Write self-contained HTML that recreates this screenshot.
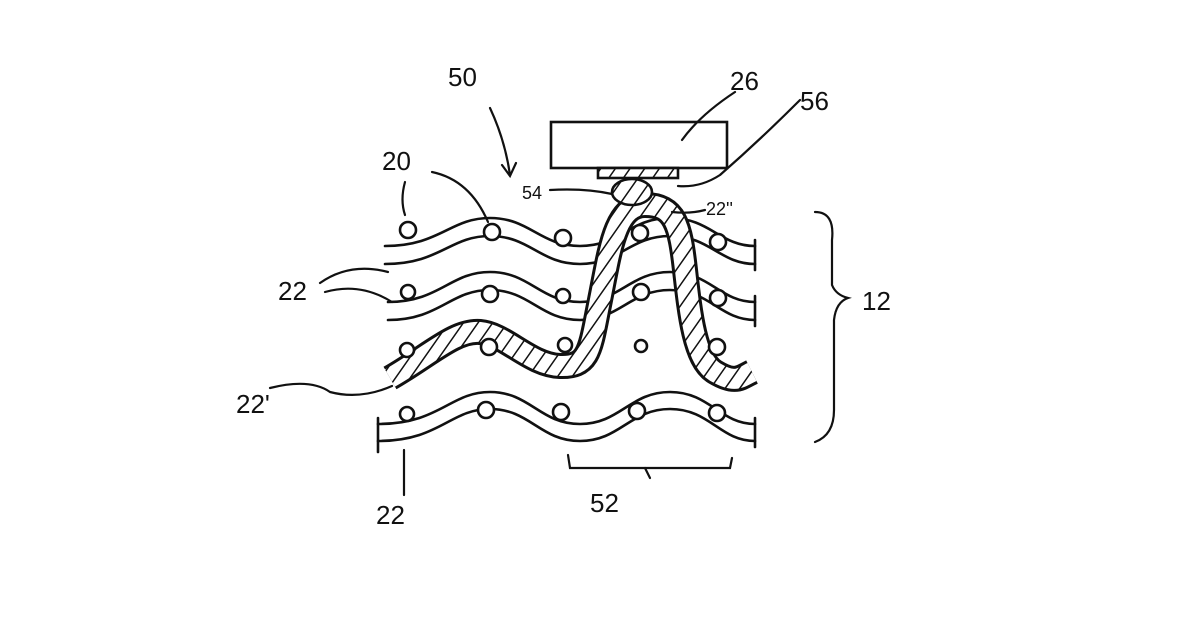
<!DOCTYPE html>
<html><head><meta charset="utf-8"><style>
html,body{margin:0;padding:0;background:#fff;width:1200px;height:630px;overflow:hidden}
text{font-family:"Liberation Sans",sans-serif;font-size:26px;fill:#111}
</style></head><body>
<svg width="1200" height="630" viewBox="0 0 1200 630" xmlns="http://www.w3.org/2000/svg">
<defs>
<pattern id="h" width="12" height="12" patternUnits="userSpaceOnUse" patternTransform="rotate(35)">
<rect width="12" height="12" fill="#fff"/><line x1="0" y1="0" x2="0" y2="12" stroke="#111" stroke-width="3"/>
</pattern>
</defs>
<g fill="none" stroke="#111" stroke-width="2.6" stroke-linecap="round">
<!-- row 1 -->
<path d="M385,246 C440,246 450,218 490,218 S540,246 580,246 S630,218 670,218 S720,246 755,246"/>
<path d="M385,264 C440,264 450,236 490,236 S540,264 580,264 S630,236 670,236 S720,264 755,264"/>
<!-- row 2 -->
<path d="M388,302 C440,302 450,272 490,272 S540,302 580,302 S630,272 670,272 S720,302 755,302"/>
<path d="M388,320 C440,320 450,290 490,290 S540,320 580,320 S630,290 670,290 S720,320 755,320"/>
<!-- row 4 -->
<path d="M378,424 C440,424 450,392 490,392 S540,424 580,424 S630,392 670,392 S720,424 755,424"/>
<path d="M378,441 C440,441 450,409 490,409 S540,441 580,441 S630,409 670,409 S720,441 755,441"/>
<line x1="755" y1="240" x2="755" y2="270"/><line x1="755" y1="296" x2="755" y2="326"/>
<line x1="378" y1="418" x2="378" y2="452"/><line x1="755" y1="418" x2="755" y2="447"/>
</g>
<!-- hatched band -->
<path d="M390,378 C430,355 455,330 480,332 S530,365 560,366 S590,350 600,300 S615,205 645,205 S680,225 685,270 S695,360 715,372 S740,378 752,372" fill="none" stroke="#111" stroke-width="26" stroke-linecap="butt"/>
<path d="M390,378 C430,355 455,330 480,332 S530,365 560,366 S590,350 600,300 S615,205 645,205 S680,225 685,270 S695,360 715,372 S740,378 752,372" fill="none" stroke="url(#h)" stroke-width="20" stroke-linecap="butt"/>
<!-- dots -->
<g fill="#fff" stroke="#111" stroke-width="2.6">
<circle cx="408" cy="230" r="8"/><circle cx="492" cy="232" r="8"/><circle cx="563" cy="238" r="8"/><circle cx="640" cy="233" r="8"/><circle cx="718" cy="242" r="8"/>
<circle cx="408" cy="292" r="7"/><circle cx="490" cy="294" r="8"/><circle cx="563" cy="296" r="7"/><circle cx="641" cy="292" r="8"/><circle cx="718" cy="298" r="8"/>
<circle cx="407" cy="350" r="7"/><circle cx="489" cy="347" r="8"/><circle cx="565" cy="345" r="7"/><circle cx="641" cy="346" r="6"/><circle cx="717" cy="347" r="8"/>
<circle cx="407" cy="414" r="7"/><circle cx="486" cy="410" r="8"/><circle cx="561" cy="412" r="8"/><circle cx="637" cy="411" r="8"/><circle cx="717" cy="413" r="8"/>
</g>
<!-- box 26 -->
<rect x="551" y="122" width="176" height="46" fill="#fff" stroke="#111" stroke-width="2.6"/>
<rect x="598" y="168" width="80" height="10" fill="url(#h)" stroke="#111" stroke-width="2.6"/>
<ellipse cx="632" cy="192" rx="20" ry="13" fill="url(#h)" stroke="#111" stroke-width="2.6"/>
<!-- leaders -->
<g fill="none" stroke="#111" stroke-width="2.2" stroke-linecap="round">
<path d="M490,108 Q505,140 510,175"/><path d="M502,165 L510,176 L516,163"/>
<path d="M735,92 Q700,115 682,140"/>
<path d="M800,100 Q760,140 720,175 Q700,188 678,186"/>
<path d="M405,182 Q400,200 405,215"/>
<path d="M432,172 Q470,180 488,222"/>
<path d="M550,190 Q585,188 612,194"/>
<path d="M705,210 Q690,214 672,212"/>
<path d="M320,283 Q350,262 388,272"/><path d="M325,292 Q360,282 392,302"/>
<path d="M270,388 Q310,378 330,392 Q360,400 392,386"/>
<path d="M404,495 L404,450"/>
<path d="M815,212 Q835,212 832,240 L832,285 Q836,295 848,298 Q836,302 834,320 L834,410 Q834,435 815,442"/>
<path d="M568,455 L570,468 L730,468 L732,458"/><path d="M645,468 L650,478"/>
</g>
<text x="448" y="86">50</text>
<text x="730" y="90">26</text>
<text x="800" y="110">56</text>
<text x="382" y="170">20</text>
<text x="522" y="199" style="font-size:18px">54</text>
<text x="706" y="215" style="font-size:18px">22''</text>
<text x="278" y="300">22</text>
<text x="862" y="310">12</text>
<text x="236" y="413">22'</text>
<text x="376" y="524">22</text>
<text x="590" y="512">52</text>
</svg>
</body></html>
